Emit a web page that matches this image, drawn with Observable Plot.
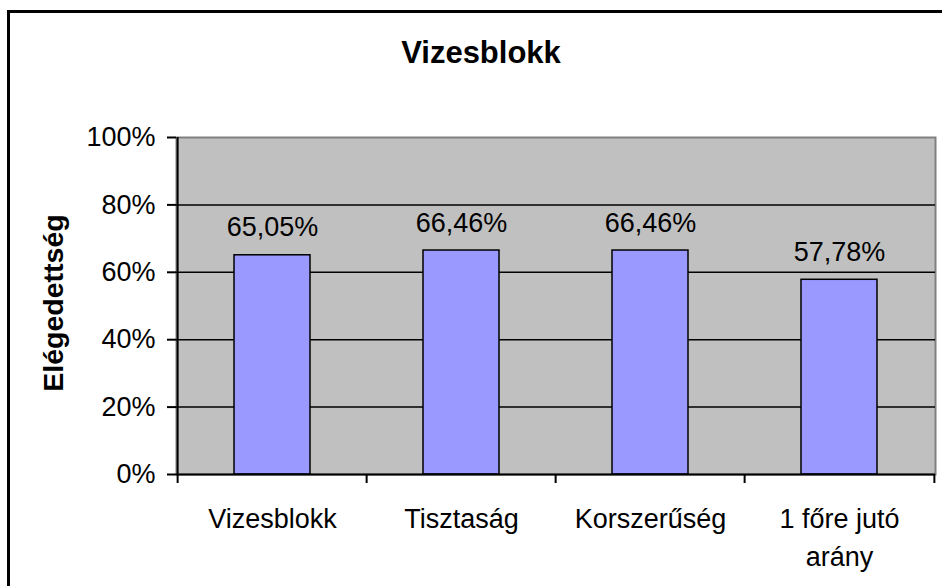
<!DOCTYPE html>
<html><head><meta charset="utf-8">
<script src="https://cdn.jsdelivr.net/npm/d3@7"></script>
<script src="https://cdn.jsdelivr.net/npm/@observablehq/plot@0.6"></script>
<style>
html,body{margin:0;padding:0;background:#fff;overflow:hidden;}
#wrap{position:relative;width:942px;height:586px;overflow:hidden;}
#border{position:absolute;left:7px;top:10px;width:2000px;height:2000px;border-left:3px solid #000;border-top:3px solid #000;}
#chart{position:absolute;left:0;top:0;}
</style></head><body>
<div id="wrap"><div id="border"></div><div id="chart"></div></div>
<script>
const title = "Vizesblokk";
const yTitle = "Elégedettség";
const categories = ["Vizesblokk", "Tisztaság", "Korszerűség", "1 főre jutó arány"];
const values = [0.6505, 0.6646, 0.6646, 0.5778];
const tickLabels = ["Vizesblokk", "Tisztaság", "Korszerűség", "1 főre jutó\narány"];
const yTicks = [0, 0.2, 0.4, 0.6, 0.8, 1];
const gridValues = [0.2, 0.4, 0.6, 0.8];

const W = 942, H = 586, mL = 176, mR = 7, mT = 137, mB = 112;
const step = (W - mL - mR) / categories.length;
const data = categories.map((c, i) => ({cat: c, value: values[i], label: tickLabels[i]}));
const fmt = v => d3.format(".2%")(v).replace(".", ",");
const font = "'Liberation Sans', Arial, sans-serif";

const plot = Plot.plot({
  width: W, height: H,
  marginLeft: mL, marginRight: mR, marginTop: mT, marginBottom: mB,
  style: {fontFamily: font, fontSize: "27px", color: "#000", background: "transparent", overflow: "visible"},
  x: {domain: categories, paddingInner: 0.6, paddingOuter: 0.3, axis: null},
  y: {domain: [0, 1], axis: null},
  marks: [
    Plot.frame({fill: "#C0C0C0", stroke: "#808080", strokeWidth: 2}),
    Plot.ruleY(gridValues, {stroke: "#000", strokeWidth: 1.5}),
    Plot.barY(data, {x: "cat", y: "value", fill: "#9999FF", stroke: "#000", strokeWidth: 1.5}),
    Plot.ruleY([0], {stroke: "#000", strokeWidth: 2}),
    Plot.ruleX([categories[0]], {dx: -step / 2, stroke: "#000", strokeWidth: 2}),
    Plot.ruleX(categories, {dx: -step / 2, y1: 0, y2: 0, insetBottom: -9, stroke: "#000", strokeWidth: 2}),
    Plot.ruleX([categories[categories.length - 1]], {dx: step / 2, y1: 0, y2: 0, insetBottom: -9, stroke: "#000", strokeWidth: 2}),
    Plot.axisY({ticks: yTicks, tickFormat: d3.format(".0%"), tickSize: 9, tickPadding: 12, fontSize: 27, strokeWidth: 2, label: null}),
    Plot.text(data, {x: "cat", y: "value", text: d => fmt(d.value), lineAnchor: "bottom", dy: -19, fontSize: 27}),
    Plot.text(data, {x: "cat", text: "label", frameAnchor: "bottom", lineAnchor: "top", dy: 26, lineHeight: 1.42, fontSize: 27}),
    Plot.text([title], {text: d => d, frameAnchor: "top", lineAnchor: "middle", dx: -75, dy: -84, fontWeight: "bold", fontSize: 31}),
    Plot.text([yTitle], {text: d => d, frameAnchor: "left", textAnchor: "middle", lineAnchor: "middle", rotate: -90, dx: -123, dy: -3, fontWeight: "bold", fontSize: 28.5})
  ]
});
document.getElementById("chart").appendChild(plot);
</script>
</body></html>
